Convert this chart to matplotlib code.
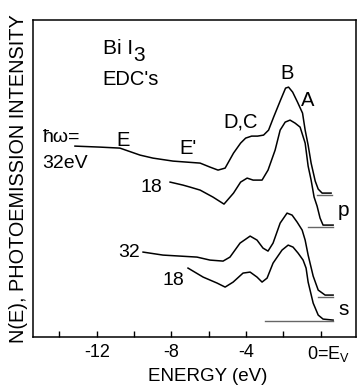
import numpy as np
import matplotlib
matplotlib.use("Agg")
import matplotlib.pyplot as plt
import matplotlib.transforms as mtransforms

plt.rcParams['font.family'] = ['Liberation Sans', 'DejaVu Sans']
plt.rcParams['mathtext.fontset'] = 'custom'
plt.rcParams['mathtext.rm'] = 'Liberation Sans'
plt.rcParams['mathtext.it'] = 'Liberation Sans'

# EDC traces, energy (eV) vs intensity (arb. units, offset per curve)
e_p32 = [-13.17, -11.83, -10.76, -9.68, -8.99, -7.91, -6.46, -5.93, -5.50, -5.12,
         -4.67, -4.29, -4.02, -3.70, -3.38, -3.06, -2.79, -2.52, -2.15, -1.88,
         -1.72, -1.50, -1.24, -0.97, -0.83, -0.67, -0.51, -0.29, -0.13, 0.08, 0.56]
i_p32 = [191, 190, 189, 182, 179, 176, 174, 170, 167, 169,
         184, 194, 199, 201, 201, 202, 207, 220, 237, 249,
         250, 245, 235, 224, 207, 192, 174, 156, 148, 144, 144]

e_p18 = [-8.07, -7.38, -7.00, -6.46, -5.77, -5.18, -4.67, -4.29, -3.94, -3.62,
         -3.14, -2.82, -2.44, -2.17, -1.90, -1.64, -1.37, -1.10, -0.83, -0.67,
         -0.51, -0.35, -0.19, -0.03, 0.13, 0.67]
i_p18 = [155, 152, 150, 147, 140, 133, 144, 155, 159, 157,
         157, 167, 187, 207, 215, 217, 214, 210, 194, 171,
         157, 140, 131, 119, 112, 112]

e_s32 = [-9.52, -8.45, -6.63, -5.93, -5.23, -4.86, -4.32, -3.78, -3.41, -3.09,
         -2.82, -2.55, -2.17, -1.80, -1.53, -1.26, -0.99, -0.83, -0.67, -0.40,
         -0.13, 0.24, 0.67]
i_s32 = [85, 82, 80, 77, 76, 80, 94, 101, 97, 89,
         86, 94, 114, 124, 122, 115, 107, 97, 82, 61,
         47, 42, 42]

e_s18 = [-7.11, -6.30, -5.55, -5.12, -4.69, -4.16, -3.78, -3.41, -3.14, -2.87,
         -2.55, -2.07, -1.74, -1.48, -1.21, -0.94, -0.78, -0.67, -0.40, -0.13,
         0.13, 0.67]
i_s18 = [69, 60, 54, 50, 55, 64, 65, 60, 55, 59,
         74, 87, 92, 90, 84, 77, 69, 55, 34, 22,
         18, 17]

# zero-intensity baselines: (E start, E end, level)
baselines = [(-0.19, 0.62, 142), (-0.67, 0.67, 110), (-0.13, 0.67, 40), (-2.98, 0.67, 16)]

tick_pos = [-14, -12, -10, -8, -6, -4, -2, 0]
tick_lab = ['', '-12', '', '-8', '', '-4', '', '0=E$_\\mathrm{V}$']

fig = plt.figure(figsize=(3.57, 3.87), dpi=100)
ax = fig.add_axes([0.0924, 0.129, 0.905, 0.819])

for e, i in [(e_p32, i_p32), (e_p18, i_p18), (e_s32, i_s32), (e_s18, i_s18)]:
    ax.plot(e, i, color='black', lw=1.1, solid_joinstyle='round')
for e0, e1, lvl in baselines:
    ax.plot([e0, e1], [lvl, lvl], color='0.4', lw=1.0)

ax.set_xlim(-15.42, 1.90)
ax.set_ylim(0, 317)
ax.set_yticks([])
ax.set_xticks(tick_pos)
ax.set_xticklabels(tick_lab, fontsize=13)
ax.tick_params(axis='x', direction='in', length=4, width=1.0, pad=5)
labs = ax.get_xticklabels()
labs[-1].set_transform(labs[-1].get_transform() +
                       mtransforms.ScaledTranslation(0.08, 0, fig.dpi_scale_trans))
for sp in ax.spines.values():
    sp.set_linewidth(1.1)

ax.set_xlabel('ENERGY (eV)', fontsize=13.5)
ax.xaxis.set_label_coords(0.54, -0.098)
fig.text(0.052, 0.539, 'N(E), PHOTOEMISSION INTENSITY', rotation=90,
         ha='center', va='center', fontsize=14.3)

# annotations
ax.text(-11.67, 288.5, 'Bi I', fontsize=15, ha='left', va='center')
ax.text(-10.03, 281.5, '3', fontsize=15, ha='left', va='center')
ax.text(-11.72, 258, "EDC's", fontsize=14.5, ha='left', va='center')
ax.text(-14.9, 200, '\u0127\u03c9=', fontsize=14, ha='left', va='center')
ax.text(-14.9, 174, '32eV', fontsize=14, ha='left', va='center')
ax.text(-10.6, 197, 'E', fontsize=14.5, ha='center', va='center')
ax.text(-7.1, 189, "E'", fontsize=14.5, ha='center', va='center')
ax.text(-4.3, 215, 'D,C', fontsize=14.5, ha='center', va='center')
ax.text(-1.8, 264, 'B', fontsize=14.5, ha='center', va='center')
ax.text(-0.72, 237, 'A', fontsize=14.5, ha='center', va='center')
ax.text(-8.5, 150, '18', fontsize=14, ha='right', va='center')
ax.text(-9.7, 85, '32', fontsize=14, ha='right', va='center')
ax.text(-7.3, 57, '18', fontsize=14, ha='right', va='center')
ax.text(1.21, 127, 'p', fontsize=15, ha='center', va='center')
ax.text(1.21, 28, 's', fontsize=15, ha='center', va='center')

fig.savefig('out.png', dpi=100)
